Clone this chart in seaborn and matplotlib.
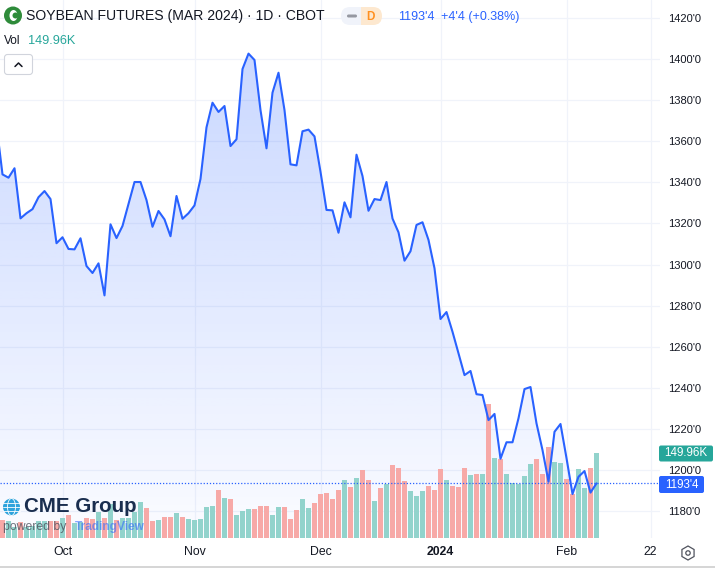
import matplotlib
matplotlib.use("Agg")
import matplotlib.pyplot as plt
from matplotlib.lines import Line2D
from matplotlib.patches import Circle, Ellipse, FancyBboxPatch, RegularPolygon, Rectangle
from matplotlib.transforms import Affine2D
import numpy as np
import pandas as pd
import seaborn as sns

# daily close, first point sits just off the left edge
closes = [
    1367.9, 1343.9, 1342.3, 1346.9, 1322.5, 1325.0, 1327.0, 1332.8, 1335.8, 1331.9,
    1310.4, 1313.3, 1307.6, 1307.4, 1312.8, 1299.3, 1295.9, 1300.6, 1285.0, 1319.6,
    1312.9, 1318.8, 1329.5, 1340.2, 1340.2, 1331.4, 1318.4, 1326.1, 1322.0, 1313.8,
    1333.4, 1322.3, 1325.0, 1328.8, 1341.7, 1366.8, 1378.8, 1374.3, 1377.2, 1357.7,
    1361.0, 1395.2, 1402.7, 1399.6, 1375.2, 1356.6, 1383.7, 1393.4, 1375.2, 1348.8,
    1348.3, 1364.9, 1365.7, 1362.4, 1345.2, 1326.6, 1326.4, 1315.5, 1330.3, 1323.0,
    1353.5, 1343.1, 1326.2, 1331.9, 1331.4, 1340.2, 1322.4, 1315.7, 1301.9, 1306.5,
    1319.3, 1320.6, 1312.0, 1298.2, 1273.5, 1276.9, 1267.3, 1256.8, 1246.2, 1248.2,
    1236.9, 1236.5, 1224.3, 1227.3, 1205.5, 1213.5, 1213.5, 1225.2, 1239.4, 1240.4,
    1222.7, 1209.7, 1194.3, 1218.6, 1222.4, 1205.8, 1188.3, 1196.7, 1199.5, 1189.0,
    1193.5,
]

# volume in thousands
volumes = [
    31.8, 30.0, 18.8, 28.2, 18.8, 21.2, 30.0, 30.0, 30.0, 30.0,
    35.3, 40.6, 26.5, 28.2, 35.3, 33.5, 45.9, 35.3, 60.0, 31.8,
    35.3, 35.3, 45.9, 63.5, 52.9, 30.0, 31.8, 37.1, 37.1, 44.1,
    37.1, 33.5, 31.8, 33.5, 54.7, 56.5, 84.7, 70.6, 68.8, 40.6,
    47.7, 51.2, 51.2, 56.5, 56.5, 40.6, 54.7, 54.7, 33.5, 49.4,
    68.8, 52.9, 61.8, 77.6, 79.4, 68.8, 84.7, 102.3, 90.0, 105.9,
    120.0, 102.3, 65.3, 88.2, 95.3, 128.8, 123.5, 100.6, 82.9, 74.1,
    82.9, 91.8, 84.7, 121.7, 102.3, 91.8, 90.0, 123.5, 111.2, 112.9,
    112.9, 236.4, 141.1, 139.4, 112.9, 97.0, 95.2, 109.4, 130.5, 139.4,
    112.9, 160.5, 134.0, 132.3, 104.0, 77.6, 121.7, 88.2, 123.5, 149.96,
]
# t = up day (teal), r = down day (red)
directions = list(
    "rttrttttrrtrttrrtrtrttttrrtrrtrtttttrtrt"
    "ttrrrttrrrttrrrrrtrtrrtrtrrrtttrrrtrrrtr"
    "trtrtttttrrrttrrttrt"
)

price_ticks = list(range(1180, 1421, 20))
price_labels = [f"{p}'0" for p in price_ticks]
date_ticks = [10, 32, 53, 73, 94, 108]
date_labels = ["Oct", "Nov", "Dec", "2024", "Feb", "22"]

BLUE = "#2962ff"
TEAL = "#26a69a"
BAR_TEAL = "#92d3cc"
BAR_RED = "#f7a9a7"
GRID = "#f0f3fa"

sns.set_style("white")
plt.rcParams["font.family"] = ["Liberation Sans", "DejaVu Sans"]

fig = plt.figure(figsize=(7.15, 5.68), dpi=100, facecolor="white")
px = Affine2D().scale(1 / 715, -1 / 568).translate(0, 1) + fig.transFigure

ax = fig.add_axes([0, 1 - 538 / 568, 660 / 715, 538 / 568])
ax_vol = ax.twinx()
ax_line = ax.twinx()
ax.set_zorder(1)
ax_vol.set_zorder(2)
ax_line.set_zorder(3)
ax_vol.patch.set_visible(False)
ax_line.patch.set_visible(False)

line_df = pd.DataFrame({"day": np.arange(len(closes)) - 1, "close": closes})
vol_df = pd.DataFrame({"day": np.arange(len(volumes)), "volume": volumes, "dir": directions})

xlim = (-2.5 / 6, 657.5 / 6)
ylim = (1166.9, 1428.8)
vol_lim = (0, 949)

# gradient area under the price line
grad = np.zeros((256, 1, 4))
grad[..., :3] = matplotlib.colors.to_rgb(BLUE)
grad[:, 0, 3] = np.linspace(0.25, 0.02, 256)
area = ax.fill_between(line_df["day"], line_df["close"], ylim[0], color="none", lw=0)
img = ax.imshow(grad, extent=[xlim[0], xlim[1], ylim[0], max(closes)], aspect="auto", zorder=1)
img.set_clip_path(area.get_paths()[0], transform=ax.transData)

ax.set_xlim(xlim)
ax.set_ylim(ylim)
ax.yaxis.tick_right()
ax.set_yticks(price_ticks, price_labels)
ax.set_xticks(date_ticks, date_labels)
ax.grid(True, color=GRID, lw=0.9)
ax.set_axisbelow(True)
ax.tick_params(axis="y", length=0, pad=6, labelsize=8, labelcolor="#131722", labelright=True, labelleft=False)
ax.tick_params(axis="x", length=0, pad=6, labelsize=8.8, labelcolor="#131722")
ax.get_xticklabels()[3].set_fontweight("bold")

sns.barplot(
    data=vol_df, x="day", y="volume", hue="dir", palette={"t": BAR_TEAL, "r": BAR_RED},
    dodge=False, native_scale=True, width=1.0, gap=0.14, saturation=1, linewidth=0, legend=False, ax=ax_vol,
)
ax_vol.set_xlim(xlim)
ax_vol.set_ylim(vol_lim)

sns.lineplot(data=line_df, x="day", y="close", color=BLUE, lw=1.5, ax=ax_line)
ax_line.axhline(closes[-1], color=BLUE, lw=0.9, ls=(0, (1, 1.5)))
ax_line.set_xlim(xlim)
ax_line.set_ylim(ylim)

for a in (ax_vol, ax_line):
    a.set_xlabel("")
    a.set_ylabel("")
    a.set_yticks([])
    a.tick_params(axis="x", length=0, labelbottom=False)
ax.set_xlabel("")
ax.set_ylabel("")
for a in (ax, ax_vol, ax_line):
    sns.despine(ax=a, left=True, right=True, top=True, bottom=True)


def label(x, y, s, **kw):
    kw.setdefault("va", "center")
    fig.text(x, y, s, transform=px, zorder=12, **kw)


def patch(p):
    p.set_transform(px)
    p.set_zorder(11)
    fig.add_artist(p)


# header
patch(Circle((13, 15.5), 9, color="#2e8b3a", lw=0))
patch(Ellipse((13.5, 15.5), 8, 11, color="white", lw=0))
patch(Circle((15.5, 15.5), 3, color="#2e8b3a", lw=0))
label(26, 16, "SOYBEAN FUTURES (MAR 2024) · 1D · CBOT", fontsize=10.05, color="#131722")
patch(FancyBboxPatch((350, 7), 32, 18, boxstyle="round,pad=0,rounding_size=9", fc="#fde8cf", lw=0))
patch(FancyBboxPatch((341, 7), 20, 18, boxstyle="round,pad=0,rounding_size=9", fc="#f0f3fa", lw=0))
patch(Rectangle((352, 7), 9, 18, fc="#f0f3fa", lw=0))
patch(FancyBboxPatch((347, 14.5), 10, 3, boxstyle="round,pad=0,rounding_size=1.5", fc="#9598a1", lw=0))
label(370, 16.5, "D", fontsize=8.5, color="#ff9020", fontweight="bold", ha="center")
label(398, 17, "1193'4", fontsize=9, color=BLUE)
label(441, 17, "+4'4 (+0.38%)", fontsize=9, color=BLUE)
label(4, 41, "Vol", fontsize=8.6, color="#131722")
label(28, 41, "149.96K", fontsize=9.2, color=TEAL)
patch(FancyBboxPatch((4.5, 54.5), 28, 20, boxstyle="round,pad=0,rounding_size=3", fc="white", ec="#d1d4dc", lw=0.8))
fig.add_artist(Line2D([15, 18.5, 22], [66.5, 63, 66.5], color="#131722", lw=1.1, transform=px, zorder=12))

# price badges
patch(FancyBboxPatch((659, 445.5), 54, 16, boxstyle="round,pad=0,rounding_size=2", fc=TEAL, lw=0))
label(686, 453.5, "149.96K", fontsize=8.4, color="white", ha="center")
patch(FancyBboxPatch((659, 476), 45, 17, boxstyle="round,pad=0,rounding_size=2", fc=BLUE, lw=0))
label(681.5, 484.5, "1193'4", fontsize=8.4, color="white", ha="center")

# CME / TradingView logos
patch(Circle((11.5, 507), 8.5, color="#2ea3dc", lw=0))
for off in (-4, 0, 4):
    fig.add_artist(Line2D([3, 20], [507 + off, 507 + off], color="white", lw=0.6, transform=px, zorder=12))
patch(Ellipse((11.5, 507), 8, 17, fc="none", ec="white", lw=0.6))
label(24, 507, "CME Group", fontsize=14.8, fontweight="bold", color="#1a2e4f")
label(3, 527, "powered by", fontsize=8.8, color="#4a4f5c", alpha=0.8)
label(75, 527, "TradingView", fontsize=8.6, color=BLUE, alpha=0.55, fontweight="bold")

# settings icon
patch(RegularPolygon((688, 553), 6, radius=7, fc="white", ec="#50535e", lw=0.9))
patch(Circle((688, 553), 2.2, fc="white", ec="#50535e", lw=0.9))

# bottom edge of the widget
patch(Rectangle((0, 566), 715, 2, fc="#d6d6d6", lw=0))

fig.savefig("out.png", dpi=100)
